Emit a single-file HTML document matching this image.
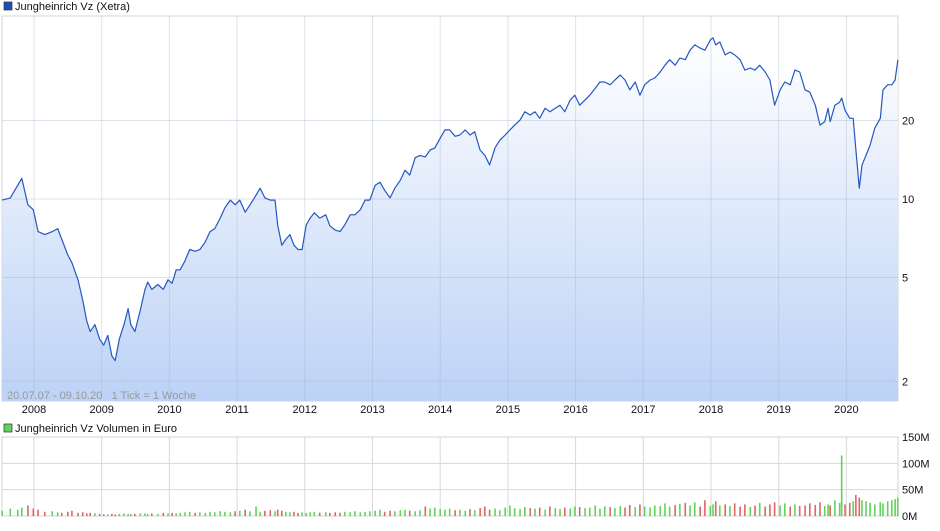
<!DOCTYPE html>
<html><head><meta charset="utf-8"><style>
body{margin:0;background:#fff;font-family:"Liberation Sans",sans-serif;}
svg text{font-family:"Liberation Sans",sans-serif;}
</style></head><body>
<svg id="c" width="940" height="526" xmlns="http://www.w3.org/2000/svg">
<defs><linearGradient id="g" x1="0" y1="0" x2="0" y2="1"><stop offset="0" stop-color="#ffffff"/><stop offset="1" stop-color="#bcd2f6"/></linearGradient></defs>
<rect x="4" y="2" width="8" height="8" fill="#1f4fb4" stroke="#333" stroke-width="0.7"/>
<text x="15" y="10" font-size="11" fill="#111">Jungheinrich Vz (Xetra)</text>
<rect x="4" y="424" width="8" height="8" fill="#5fd35a" stroke="#333" stroke-width="0.7"/>
<text x="15" y="432" font-size="11" fill="#111">Jungheinrich Vz Volumen in Euro</text>
<g id="grid"></g><g id="area"></g><g id="vol"></g><g id="labels"></g>
<text x="7" y="399" font-size="11" fill="#999" xml:space="preserve" style="white-space:pre">20.07.07 - 09.10.20   1 Tick = 1 Woche</text>
</svg>
<script>
const dates=[2007.53,2007.65,2007.76,2007.82,2007.91,2007.99,2008.06,2008.16,2008.27,2008.35,
2008.41,2008.50,2008.56,2008.65,2008.72,2008.78,2008.83,2008.90,2008.97,2009.03,
2009.09,2009.15,2009.20,2009.26,2009.33,2009.39,2009.43,2009.49,2009.57,2009.64,
2009.68,2009.74,2009.83,2009.91,2009.98,2010.04,2010.10,2010.16,2010.23,2010.30,
2010.38,2010.45,2010.53,2010.60,2010.67,2010.75,2010.82,2010.90,2010.97,2011.04,
2011.12,2011.19,2011.28,2011.34,2011.41,2011.49,2011.56,2011.60,2011.66,2011.72,
2011.78,2011.84,2011.90,2011.96,2012.02,2012.08,2012.14,2012.22,2012.31,2012.37,
2012.45,2012.52,2012.59,2012.67,2012.74,2012.82,2012.89,2012.96,2013.04,2013.11,
2013.18,2013.26,2013.33,2013.41,2013.48,2013.55,2013.63,2013.70,2013.78,2013.85,
2013.92,2014.00,2014.07,2014.14,2014.22,2014.29,2014.37,2014.44,2014.51,2014.59,
2014.66,2014.73,2014.81,2014.88,2014.96,2015.03,2015.10,2015.18,2015.25,2015.33,
2015.40,2015.47,2015.55,2015.62,2015.70,2015.77,2015.84,2015.92,2015.99,2016.06,
2016.14,2016.21,2016.29,2016.36,2016.43,2016.51,2016.58,2016.66,2016.73,2016.80,
2016.88,2016.95,2017.02,2017.10,2017.17,2017.25,2017.32,2017.39,2017.47,2017.54,
2017.62,2017.69,2017.76,2017.84,2017.91,2017.99,2018.03,2018.07,2018.13,2018.21,
2018.28,2018.35,2018.43,2018.50,2018.58,2018.65,2018.72,2018.80,2018.87,2018.94,
2019.02,2019.09,2019.17,2019.24,2019.31,2019.39,2019.46,2019.54,2019.61,2019.68,
2019.73,2019.76,2019.83,2019.90,2019.93,2019.98,2020.05,2020.10,2020.14,2020.19,
2020.23,2020.29,2020.35,2020.42,2020.50,2020.54,2020.61,2020.67,2020.72,2020.76];
const prices=[9.9,10.1,11.3,12.0,9.5,9.1,7.5,7.3,7.5,7.7,
7.0,6.1,5.7,4.9,4.1,3.4,3.1,3.3,2.9,2.75,
3.0,2.5,2.4,2.9,3.3,3.8,3.3,3.1,3.75,4.5,
4.8,4.5,4.7,4.5,4.9,4.75,5.35,5.35,5.8,6.4,
6.3,6.4,6.85,7.5,7.7,8.45,9.25,9.9,9.5,9.9,
8.9,9.5,10.35,11.0,10.1,9.9,9.9,7.95,6.65,7.0,
7.3,6.65,6.4,6.4,7.95,8.45,8.85,8.45,8.7,7.9,
7.6,7.5,7.95,8.7,8.7,9.1,9.9,9.9,11.3,11.6,
10.8,10.1,11.0,11.8,12.9,12.35,14.4,14.7,14.5,15.4,
15.7,17.1,18.4,18.4,17.4,17.6,18.4,17.6,18.1,15.4,
14.7,13.5,15.7,16.8,17.6,18.4,19.2,20.1,21.6,21.0,
21.6,20.4,22.3,21.6,22.3,22.9,21.6,24.0,25.0,22.9,
24.0,25.0,26.6,28.1,28.1,27.4,28.6,29.9,28.6,26.2,
28.1,25.0,27.4,28.6,29.1,30.7,32.6,34.2,32.6,34.7,
34.2,37.2,39.0,37.9,37.2,40.7,41.5,39.0,40.0,35.7,
36.6,35.7,34.2,31.2,31.8,31.2,32.6,30.7,28.6,22.9,
26.2,28.1,27.4,31.2,30.7,26.2,25.7,22.9,19.2,19.8,
22.3,19.8,22.9,23.5,24.4,21.9,20.4,20.4,15.4,11.0,
13.5,14.7,16.1,18.7,20.4,26.2,27.4,27.4,28.6,34.2];
const volumes=[10,14,12,16,20,14,12,8,9,7,
6,8,10,6,7,5,6,5,4,3,
3,4,3,4,5,4,3,4,5,5,
4,5,4,6,5,6,5,6,7,8,
6,7,6,8,7,9,8,7,9,10,
12,9,18,8,10,11,9,12,10,8,
7,8,6,7,6,7,8,6,7,6,
7,6,8,7,9,7,8,9,10,12,
8,10,9,11,12,10,9,11,18,14,
16,13,12,14,11,12,10,13,11,15,
18,12,14,11,16,20,15,13,17,15,
14,16,12,18,15,13,16,14,18,17,
15,16,20,14,18,17,15,19,16,21,
17,22,18,16,20,19,24,18,21,23,
25,20,26,18,30,19,22,28,20,22,
19,24,18,22,17,20,25,18,22,26,
20,24,18,22,19,20,24,21,26,19,
22,20,30,25,115,22,25,28,40,35,
30,28,25,22,26,24,28,30,32,35];
const years=[2008,2009,2010,2011,2012,2013,2014,2015,2016,2017,2018,2019,2020];
const priceTicks=[2,5,10,20];
const volTicks=[0,50,100,150];

const NS="http://www.w3.org/2000/svg";
const L=2,R=898,T=16,B=401,VT=437,VB=516;
const X=t=>34+(t-2008)*67.7;
const Y=v=>199-78.5*Math.log2(v/10);
const VY=v=>VB-v*(VB-VT)/150;
function mk(tag,attrs,parent){const e=document.createElementNS(NS,tag);for(const k in attrs)e.setAttribute(k,attrs[k]);parent.appendChild(e);return e;}
const grid=document.getElementById('grid'),area=document.getElementById('area'),vol=document.getElementById('vol'),lab=document.getElementById('labels');

let bg=mk('rect',{x:L,y:T,width:R-L,height:B-T,fill:'#fff',stroke:'#d4d4d4'},grid);


let vbg=mk('rect',{x:L,y:VT,width:R-L,height:VB-VT,fill:'#fff',stroke:'#d4d4d4'},grid);



let pts=dates.map((d,i)=>X(d).toFixed(1)+','+Y(prices[i]).toFixed(1));
let fillD='M'+X(dates[0])+','+B+' L'+pts.join(' L')+' L'+X(dates[dates.length-1])+','+B+' Z';
let fa=mk('path',{d:fillD,fill:'url(#g)'},area);



years.forEach(y=>{
  let x=X(y);
  let l1=mk('line',{x1:x,x2:x,y1:T,y2:B,stroke:'#9fb0c8',"stroke-opacity":0.35},area);
  
  
  let l2=mk('line',{x1:x,x2:x,y1:VT,y2:VB,stroke:'#d8d8d8'},grid);
  
  
  let t=mk('text',{x:x,y:413,"font-size":11,fill:'#111',"text-anchor":'middle'},lab);
  t.textContent=y;
  
  
});
priceTicks.forEach(v=>{
  let y=Y(v);
  let l=mk('line',{x1:L,x2:R,y1:y,y2:y,stroke:'#9fb0c8',"stroke-opacity":0.35},area);
  
  
  let t=mk('text',{x:902,y:y+4,"font-size":11,fill:'#111'},lab);
  t.textContent=v;
  
  
});
volTicks.forEach(v=>{
  let y=VY(v);
  if(v>0&&v<150){let l=mk('line',{x1:L,x2:R,y1:y,y2:y,stroke:'#d8d8d8'},grid);
  
  }
  let t=mk('text',{x:902,y:y+4,"font-size":11,fill:'#111'},lab);
  t.textContent=v+'M';
  
  
});
let pl=mk('polyline',{points:pts.join(' '),fill:'none',stroke:'#2557c0',"stroke-width":1.2,"stroke-linejoin":'round'},area);


volumes.forEach((v,i)=>{
  let up=i===0||prices[i]>=prices[i-1];
  let x=X(dates[i]);
  let r=mk('rect',{x:x-0.8,y:VY(v),width:1.6,height:VB-VY(v),fill:up?'#5fd35a':'#e06464'},vol);
  
  
});
</script>
</body></html>
